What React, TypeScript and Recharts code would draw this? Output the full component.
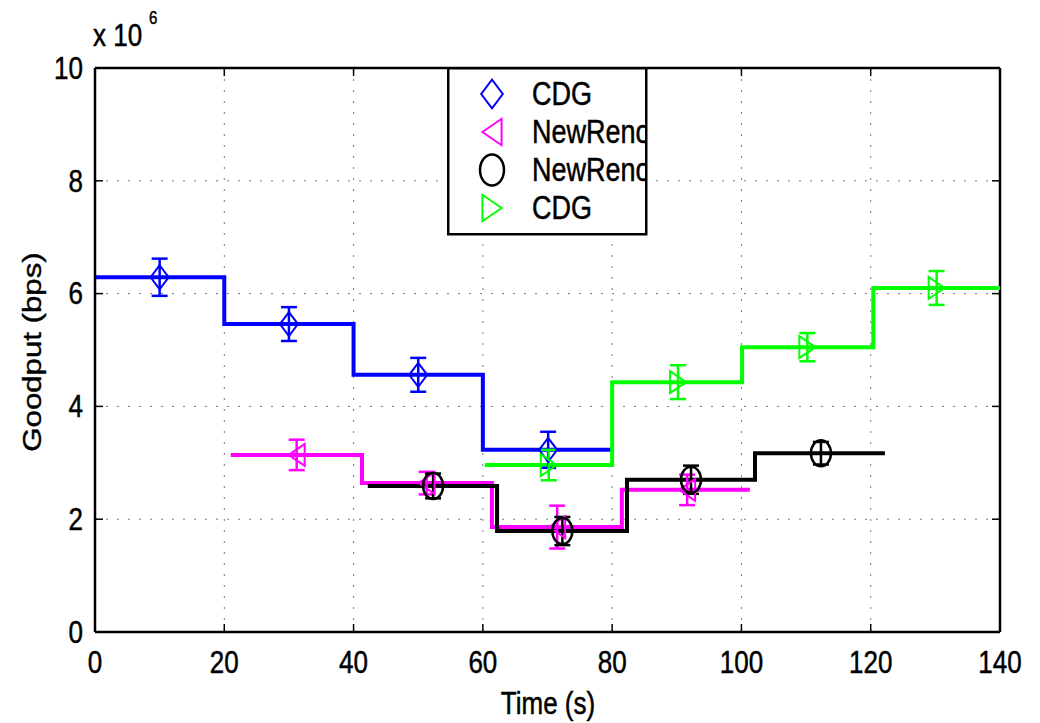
import {
  ComposedChart,
  Line,
  Scatter,
  ErrorBar,
  XAxis,
  YAxis,
  CartesianGrid,
  ReferenceLine,
  Legend,
} from "recharts";

const timeTicks = [0, 20, 40, 60, 80, 100, 120, 140];
const goodputTicks = [0, 2, 4, 6, 8, 10];

// CDG (blue) - goodput in units of 10^6 bps
const cdgBlueStart = [0, 20, 40, 60];
const cdgBlueEnd = 80;
const cdgBlueGoodput = [6.29, 5.46, 4.56, 3.23];
const cdgBlueMarkT = [10, 30, 50, 70.1];
const cdgBlueErr = [0.33, 0.3, 0.3, 0.32];

// NewReno (magenta)
const renoPinkStart = [21, 41.3, 61.4, 81.5];
const renoPinkEnd = 101.3;
const renoPinkGoodput = [3.14, 2.64, 1.86, 2.52];
const renoPinkMarkT = [31.2, 51.3, 71.5, 91.6];
const renoPinkErr = [0.27, 0.2, 0.38, 0.27];

// NewReno (black)
const renoBlackStart = [42.2, 62.2, 82.3, 102.1];
const renoBlackEnd = 122.2;
const renoBlackGoodput = [2.59, 1.79, 2.7, 3.17];
const renoBlackMarkT = [52.3, 72.3, 92.2, 112.3];
const renoBlackErr = [0.22, 0.25, 0.25, 0.2];

// CDG (green)
const cdgGreenStart = [60.3, 80, 100.1, 120.4];
const cdgGreenEnd = 140;
const cdgGreenGoodput = [2.96, 4.43, 5.05, 6.1];
const cdgGreenMarkT = [70.2, 90.2, 110.2, 130.2];
const cdgGreenErr = [0.27, 0.3, 0.25, 0.3];

const BLUE = "#0000ff";
const PINK = "#ff00ff";
const BLACK = "#000000";
const GREEN = "#00ff00";
const FONT = "'Liberation Sans', Arial, Helvetica, sans-serif";

const PLOT_L = 95;
const PLOT_R = 1000;
const PLOT_T = 68;
const PLOT_B = 632;

function stepData(starts: number[], end: number, vals: number[]) {
  const pts = starts.map((t, i) => ({ t, v: vals[i] }));
  pts.push({ t: end, v: vals[vals.length - 1] });
  return pts;
}

function markData(ts: number[], vals: number[], errs: number[]) {
  return ts.map((t, i) => ({ t, v: vals[i], err: errs[i] }));
}

type Kind = "diamond" | "left" | "circle" | "right";

function Marker({ kind, cx, cy, color, s = 1 }: { kind: Kind; cx: number; cy: number; color: string; s?: number }) {
  const common = { fill: "none", stroke: color, strokeWidth: 2 };
  if (kind === "diamond") {
    const w = 9 * s, h = 12 * s;
    return <polygon points={`${cx},${cy - h} ${cx + w},${cy} ${cx},${cy + h} ${cx - w},${cy}`} {...common} />;
  }
  if (kind === "left") {
    const w = 8 * s, h = 11 * s;
    return <polygon points={`${cx - w},${cy} ${cx + w},${cy - h} ${cx + w},${cy + h}`} {...common} />;
  }
  if (kind === "right") {
    const w = 8 * s, h = 11 * s;
    return <polygon points={`${cx + w},${cy} ${cx - w},${cy - h} ${cx - w},${cy + h}`} {...common} />;
  }
  return <ellipse cx={cx} cy={cy} rx={10 * s} ry={13 * s} {...common} strokeWidth={2.5} />;
}

const shapeFor = (kind: Kind, color: string) => (props: any) =>
  <Marker kind={kind} cx={props.cx} cy={props.cy} color={color} />;

const textStyle = { fontFamily: FONT, fill: "#000", stroke: "#000", strokeWidth: 0.4 };

const YTick = (props: any) => {
  const y = props.y;
  return (
    <g>
      <line x1={PLOT_L} x2={PLOT_L + 8} y1={y} y2={y} stroke="#000" strokeWidth={1.5} />
      <line x1={PLOT_R - 8} x2={PLOT_R} y1={y} y2={y} stroke="#000" strokeWidth={1.5} />
      <text
        transform={`translate(83 ${y}) scale(1 1.2)`}
        textAnchor="end"
        dominantBaseline="central"
        fontSize={26}
        {...textStyle}
      >
        {props.payload.value}
      </text>
    </g>
  );
};

const XTick = (props: any) => {
  const x = props.x;
  return (
    <g>
      <line x1={x} x2={x} y1={PLOT_B} y2={PLOT_B - 8} stroke="#000" strokeWidth={1.5} />
      <line x1={x} x2={x} y1={PLOT_T} y2={PLOT_T + 8} stroke="#000" strokeWidth={1.5} />
      <text
        transform={`translate(${x} 662) scale(1 1.2)`}
        textAnchor="middle"
        dominantBaseline="central"
        fontSize={26}
        {...textStyle}
      >
        {props.payload.value}
      </text>
    </g>
  );
};

const YLabel = () => (
  <g {...textStyle}>
    <text
      transform={`translate(32 352) scale(1 1.2) rotate(-90)`}
      textAnchor="middle"
      dominantBaseline="central"
      fontSize={26}
    >
      Goodput (bps)
    </text>
    <text transform="translate(93 46) scale(1 1.2)" fontSize={26}>
      x 10
    </text>
    <text transform="translate(149 24) scale(1 1.2)" fontSize={15}>
      6
    </text>
  </g>
);

const XLabel = () => (
  <text
    transform="translate(548 703) scale(1 1.2)"
    textAnchor="middle"
    dominantBaseline="central"
    fontSize={26}
    {...textStyle}
  >
    Time (s)
  </text>
);

const legendItems: { name: string; color: string; kind: Kind }[] = [
  { name: "CDG", color: BLUE, kind: "diamond" },
  { name: "NewReno", color: PINK, kind: "left" },
  { name: "NewReno", color: BLACK, kind: "circle" },
  { name: "CDG", color: GREEN, kind: "right" },
];

const LegendBox = () => (
  <svg width={201} height={169} style={{ display: "block" }}>
    <defs>
      <clipPath id="legclip">
        <rect x={0} y={0} width={199} height={169} />
      </clipPath>
    </defs>
    <rect x={1.25} y={1.25} width={198} height={166} fill="#fff" stroke="#000" strokeWidth={2.5} />
    <g clipPath="url(#legclip)">
      {legendItems.map((it, i) => {
        const cy = 27 + i * 38;
        return (
          <g key={i}>
            <Marker kind={it.kind} cx={45} cy={cy} color={it.color} s={1.2} />
            <text
              transform={`translate(85 ${cy}) scale(1 1.2)`}
              dominantBaseline="central"
              fontSize={27}
              {...textStyle}
            >
              {it.name}
            </text>
          </g>
        );
      })}
    </g>
  </svg>
);

export default function App() {
  const series = [
    { key: "cdgBlue", color: BLUE, kind: "diamond" as Kind, line: stepData(cdgBlueStart, cdgBlueEnd, cdgBlueGoodput), marks: markData(cdgBlueMarkT, cdgBlueGoodput, cdgBlueErr) },
    { key: "renoPink", color: PINK, kind: "left" as Kind, line: stepData(renoPinkStart, renoPinkEnd, renoPinkGoodput), marks: markData(renoPinkMarkT, renoPinkGoodput, renoPinkErr) },
    { key: "renoBlack", color: BLACK, kind: "circle" as Kind, line: stepData(renoBlackStart, renoBlackEnd, renoBlackGoodput), marks: markData(renoBlackMarkT, renoBlackGoodput, renoBlackErr) },
    { key: "cdgGreen", color: GREEN, kind: "right" as Kind, line: stepData(cdgGreenStart, cdgGreenEnd, cdgGreenGoodput), marks: markData(cdgGreenMarkT, cdgGreenGoodput, cdgGreenErr) },
  ];

  return (
    <div style={{ position: "absolute", left: 0, top: 0, width: 1040, height: 723, background: "#fff" }}>
      <ComposedChart width={1040} height={723} margin={{ top: PLOT_T, right: 1040 - PLOT_R, bottom: 0, left: 0 }}>
        <CartesianGrid stroke="#777" strokeDasharray="2 9" strokeWidth={1} />
        <XAxis
          dataKey="t"
          type="number"
          domain={[0, 140]}
          ticks={timeTicks}
          allowDataOverflow
          height={723 - PLOT_B}
          tick={<XTick />}
          tickLine={false}
          axisLine={{ stroke: "#000", strokeWidth: 2.5 }}
          label={<XLabel />}
        />
        <YAxis
          dataKey="v"
          type="number"
          domain={[0, 10]}
          ticks={goodputTicks}
          allowDataOverflow
          width={PLOT_L}
          tick={<YTick />}
          tickLine={false}
          axisLine={{ stroke: "#000", strokeWidth: 2.5 }}
          label={<YLabel />}
        />
        <ReferenceLine y={10} stroke="#000" strokeWidth={2.5} />
        <ReferenceLine x={140} stroke="#000" strokeWidth={2.5} />
        {series.map((s) => (
          <Line
            key={s.key + "-line"}
            data={s.line}
            dataKey="v"
            type="stepAfter"
            stroke={s.color}
            strokeWidth={4}
            dot={false}
            activeDot={false}
            isAnimationActive={false}
            legendType="none"
          />
        ))}
        {series.map((s) => (
          <Scatter
            key={s.key + "-marks"}
            data={s.marks}
            dataKey="v"
            shape={shapeFor(s.kind, s.color)}
            isAnimationActive={false}
            legendType="none"
          >
            <ErrorBar dataKey="err" direction="y" width={8} stroke={s.color} strokeWidth={2.5} isAnimationActive={false} />
          </Scatter>
        ))}
        <Legend
          layout="vertical"
          align="center"
          verticalAlign="middle"
          content={() => <LegendBox />}
          wrapperStyle={{ left: 447, top: 67, width: 201, height: 169 }}
        />
      </ComposedChart>
    </div>
  );
}
